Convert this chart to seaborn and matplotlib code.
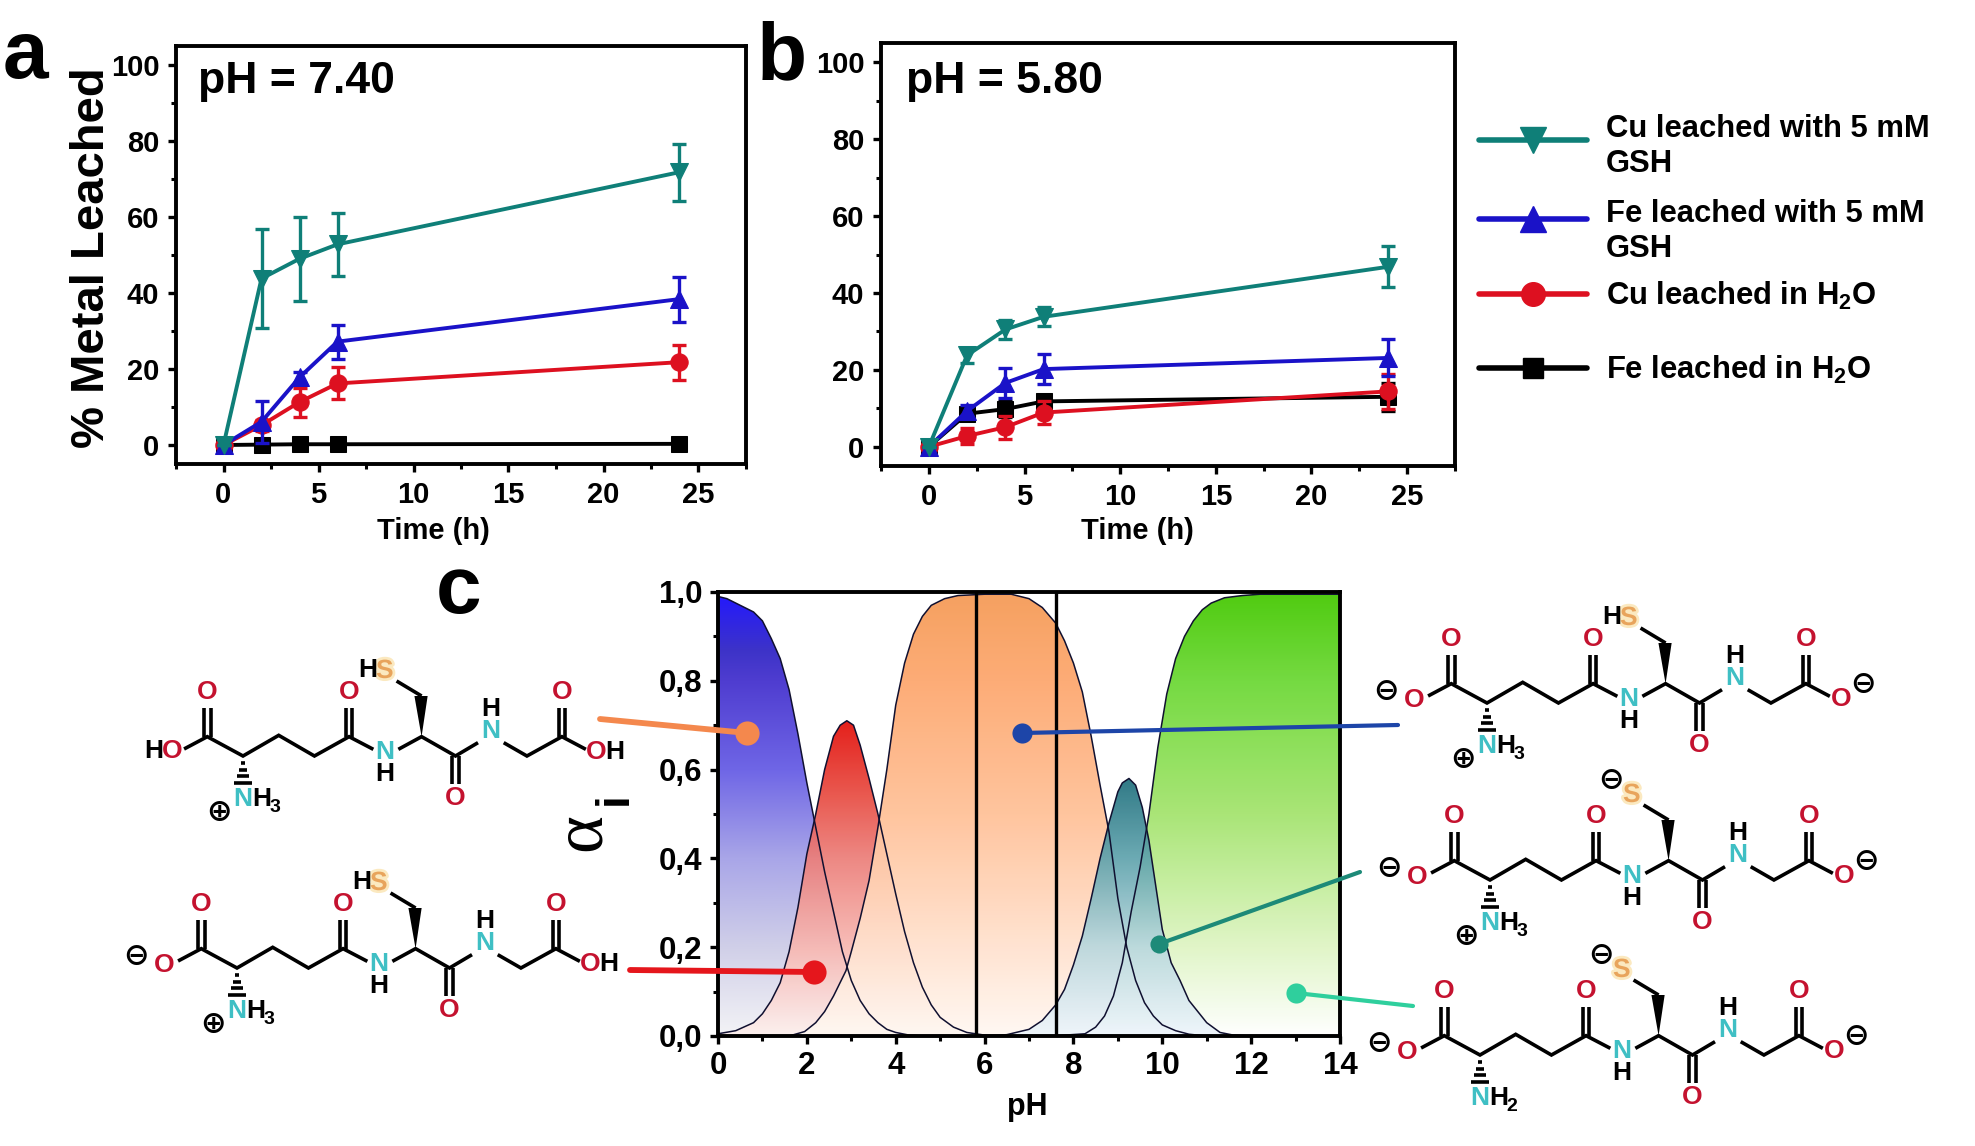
import numpy as np
import pandas as pd
import seaborn as sns
import matplotlib.pyplot as plt
from matplotlib.colors import LinearSegmentedColormap
from matplotlib.legend_handler import HandlerLine2D
from matplotlib.patches import Polygon
from matplotlib.ticker import MultipleLocator
import matplotlib.patheffects as pe

W, H = 1975, 1146

# panels a and b
time_h = [0, 2, 4, 6, 24]

a_cu_gsh = [0, 43.8, 49.0, 52.8, 71.8]
a_cu_gsh_err = [0, 13.0, 11.0, 8.2, 7.5]
a_fe_gsh = [0, 6.1, 17.8, 27.2, 38.4]
a_fe_gsh_err = [0, 5.5, 1.5, 4.5, 5.9]
a_cu_h2o = [0, 5.2, 11.3, 16.2, 21.8]
a_cu_h2o_err = [0, 1.5, 3.8, 4.2, 4.6]
a_fe_h2o = [0, 0.1, 0.2, 0.2, 0.3]
a_fe_h2o_err = [0, 0, 0, 0, 0]

b_cu_gsh = [0, 23.8, 30.5, 33.8, 46.8]
b_cu_gsh_err = [0, 2.0, 2.5, 2.5, 5.3]
b_fe_gsh = [0, 9.3, 16.6, 20.2, 23.1]
b_fe_gsh_err = [0, 1.5, 4.0, 3.8, 4.8]
b_cu_h2o = [0, 2.8, 5.1, 8.9, 14.4]
b_cu_h2o_err = [0, 2.0, 3.0, 3.0, 4.6]
b_fe_h2o = [0, 8.6, 9.8, 11.8, 13.0]
b_fe_h2o_err = [0, 1.0, 2.0, 1.5, 3.7]

legend_labels = ['Cu leached with 5 mM\nGSH',
                 'Fe leached with 5 mM\nGSH',
                 r'Cu leached in $\mathbf{H_2O}$',
                 r'Fe leached in $\mathbf{H_2O}$']

# panel c, species fractions
blue_ph = [0, .2, .4, .6, .8, 1, 1.2, 1.4, 1.6, 1.8, 2, 2.2, 2.4, 2.6, 2.8, 3, 3.2, 3.4, 3.6, 3.8, 4, 4.3, 4.6, 14]
blue_a = [.99, .985, .975, .965, .955, .935, .895, .85, .78, .68, .57, .47, .37, .28, .19, .125, .08, .05, .03, .015, .008, .002, 0, 0]

red_ph = [0, .4, .8, 1, 1.2, 1.4, 1.6, 1.8, 2, 2.2, 2.4, 2.6, 2.75, 2.9, 3.05, 3.2, 3.4, 3.6, 3.8, 4, 4.2, 4.4, 4.6, 4.8, 5, 5.3, 5.6, 6, 6.5, 14]
red_a = [.005, .012, .03, .05, .08, .12, .19, .29, .41, .50, .60, .675, .70, .71, .70, .655, .58, .50, .41, .32, .235, .165, .11, .07, .042, .02, .008, .002, 0, 0]

orange_ph = [0, 1.6, 1.95, 2.2, 2.4, 2.6, 2.88, 3, 3.2, 3.4, 3.6, 3.8, 4, 4.2, 4.4, 4.6, 4.8, 5.1, 5.4, 6, 6.6, 7, 7.3, 7.6, 7.8, 8, 8.2, 8.4, 8.6, 8.8, 9, 9.2, 9.4, 9.6, 9.8, 10, 10.3, 10.6, 11, 14]
orange_a = [0, 0, .01, .03, .055, .09, .147, .19, .265, .35, .47, .60, .745, .84, .905, .945, .97, .985, .992, .995, .995, .985, .965, .93, .89, .84, .775, .675, .565, .46, .31, .20, .125, .075, .045, .025, .012, .004, 0, 0]

teal_ph = [0, 6, 6.5, 7, 7.3, 7.6, 7.8, 8, 8.2, 8.4, 8.6, 8.8, 9, 9.1, 9.25, 9.4, 9.55, 9.7, 9.85, 10, 10.2, 10.4, 10.6, 10.8, 11, 11.3, 11.6, 12, 14]
teal_a = [0, 0, .003, .015, .035, .07, .105, .16, .225, .31, .40, .48, .55, .57, .58, .565, .515, .44, .34, .24, .165, .125, .08, .055, .03, .008, .002, 0, 0]

green_ph = [0, 7.5, 8.26, 8.5, 8.7, 8.9, 9.1, 9.3, 9.5, 9.7, 9.9, 10.1, 10.3, 10.5, 10.7, 10.9, 11.1, 11.4, 11.8, 12.2, 14]
green_a = [0, 0, .005, .02, .045, .09, .165, .28, .38, .50, .65, .77, .85, .90, .935, .96, .975, .987, .992, .995, .995]

ph_marks = [5.8, 7.6]

# gradient stops (alpha level, colour) for each species
blue_stops = [(0, '#f3f3f6'), (.2, '#d0cfe8'), (.4, '#a9a6e8'), (.6, '#6f66e6'), (.8, '#4f3dd0'), (.87, '#3d33c8'), (1, '#2318ff')]
red_stops = [(0, '#fdf0ee'), (.2, '#f8b8b2'), (.4, '#ec7f7a'), (.55, '#e84a40'), (.71, '#e30f0a'), (1, '#e30f0a')]
orange_stops = [(0, '#fff8f2'), (.2, '#ffe2cf'), (.5, '#ffc198'), (.8, '#fda76e'), (1, '#f59a55')]
teal_stops = [(0, '#eef5fb'), (.2, '#b9d8de'), (.4, '#5fa3ad'), (.58, '#1e6e7c'), (1, '#1e6e7c')]
green_stops = [(0, '#ffffff'), (.2, '#dff5c4'), (.5, '#a4e46e'), (.8, '#6cd835'), (1, '#44c800')]

TEAL = '#0f7f78'
BLUE = '#1a12c8'
RED = '#dd1020'
O_COL = '#c4122f'
N_COL = '#3fbfc4'
S_COL = '#e8a45c'
MARKER_SIZE = {'s': 11, 'o': 12.5, '^': 13, 'v': 13}

sns.set_theme(style='ticks')
plt.rcParams['font.family'] = ['Liberation Sans', 'DejaVu Sans']
plt.rcParams['font.weight'] = 'bold'
plt.rcParams['text.color'] = 'black'
plt.rcParams['axes.labelcolor'] = 'black'
plt.rcParams['mathtext.fontset'] = 'custom'
plt.rcParams['mathtext.bf'] = 'Liberation Sans:bold'
plt.rcParams['mathtext.rm'] = 'Liberation Sans'

fig = plt.figure(figsize=(W / 100, H / 100), dpi=100)


def px_axes(left, top, right, bottom):
    return fig.add_axes([left / W, 1 - bottom / H, (right - left) / W, (bottom - top) / H])


def style_axis(ax, spine_w=2.8):
    for s in ax.spines.values():
        s.set_linewidth(spine_w)
        s.set_color('black')
    ax.tick_params(which='major', length=6, width=2.4, labelsize=21, pad=6, colors='black')
    ax.tick_params(which='minor', length=3.5, width=2.2, colors='black')
    ax.tick_params(top=False, right=False, which='both')


def leach_panel(ax, series):
    for y, err, col, mk in series:
        df = pd.DataFrame({'time': time_h, 'value': y})
        ax.errorbar(time_h, y, yerr=err, fmt='none', ecolor=col, elinewidth=2.4, capsize=5, capthick=2.4)
        sns.lineplot(data=df, x='time', y='value', color=col, marker=mk, markersize=MARKER_SIZE[mk],
                     markeredgecolor=col, linewidth=2.8, errorbar=None, ax=ax)
    ax.set_xlim(-2.5, 27.5)
    ax.set_ylim(-5, 105)
    ax.xaxis.set_major_locator(MultipleLocator(5))
    ax.xaxis.set_minor_locator(MultipleLocator(2.5))
    ax.yaxis.set_major_locator(MultipleLocator(20))
    ax.yaxis.set_minor_locator(MultipleLocator(10))
    ax.set_ylabel('')
    style_axis(ax)


ax_a = px_axes(176, 46, 746, 464)
leach_panel(ax_a, [(a_fe_h2o, a_fe_h2o_err, 'black', 's'),
                   (a_cu_h2o, a_cu_h2o_err, RED, 'o'),
                   (a_fe_gsh, a_fe_gsh_err, BLUE, '^'),
                   (a_cu_gsh, a_cu_gsh_err, TEAL, 'v')])
ax_a.set_xlabel('Time (h)', fontsize=21, fontweight='bold', va='center')
ax_a.xaxis.set_label_coords(0.452, -0.16)
ax_a.set_ylabel('% Metal Leached', fontsize=34, fontweight='bold', va='center')
ax_a.yaxis.set_label_coords(-0.148, 0.494)

ax_b = px_axes(881, 43, 1455, 466)
leach_panel(ax_b, [(b_fe_h2o, b_fe_h2o_err, 'black', 's'),
                   (b_cu_h2o, b_cu_h2o_err, RED, 'o'),
                   (b_fe_gsh, b_fe_gsh_err, BLUE, '^'),
                   (b_cu_gsh, b_cu_gsh_err, TEAL, 'v')])
ax_b.set_xlabel('Time (h)', fontsize=21, fontweight='bold', va='center')
ax_b.xaxis.set_label_coords(0.447, -0.153)


class LiftedLine(HandlerLine2D):
    # the reference keeps the handle nearer the first text line
    def __init__(self, lift):
        super().__init__()
        self.lift = lift

    def create_artists(self, legend, orig_handle, xdescent, ydescent, width, height, fontsize, trans):
        return super().create_artists(legend, orig_handle, xdescent, ydescent - 2 * self.lift,
                                      width, height, fontsize, trans)


# legend entries are spaced unevenly in the reference, so one legend per entry
leg_style = [(TEAL, 'v', 18.5, 5.0), (BLUE, '^', 18.5, 9.0), (RED, 'o', 17, 0), ('black', 's', 15, 0)]
leg_tops = [114, 199, 280, 354]
for (col, mk, ms, lift), lab, top in zip(leg_style, legend_labels, leg_tops):
    h = plt.Line2D([], [], color=col, marker=mk, markersize=ms, linewidth=4)
    fig.legend([h], [lab], loc='upper left', bbox_to_anchor=(1479 / W, 1 - top / H),
               frameon=False, fontsize=22.3, handlelength=3.5, handletextpad=0.6,
               borderpad=0, borderaxespad=0, handler_map={h: LiftedLine(lift)})

# panel c
ax_c = px_axes(718, 592, 1340, 1036)
gradient = np.linspace(0, 1, 256).reshape(-1, 1)
species = [(blue_ph, blue_a, blue_stops, 1.0),
           (red_ph, red_a, red_stops, 0.93),
           (orange_ph, orange_a, orange_stops, 0.94),
           (green_ph, green_a, green_stops, 0.94),
           (teal_ph, teal_a, teal_stops, 0.92)]
for ph, alpha_i, stops, op in species:
    cmap = LinearSegmentedColormap.from_list('grad', stops)
    patch = ax_c.fill_between(ph, alpha_i, 0, color='none', linewidth=0)
    im = ax_c.imshow(gradient, extent=[0, 14, 0, 1], origin='lower', aspect='auto',
                     cmap=cmap, alpha=op, vmin=0, vmax=1)
    im.set_clip_path(patch.get_paths()[0], transform=ax_c.transData)
for ph, alpha_i, stops, op in species:
    sns.lineplot(x=ph, y=alpha_i, color='#101030', linewidth=1.1, errorbar=None, ax=ax_c)
for m in ph_marks:
    ax_c.axvline(m, color='black', linewidth=2.4)
ax_c.set_xlim(0, 14)
ax_c.set_ylim(0, 1)
ax_c.xaxis.set_major_locator(MultipleLocator(2))
ax_c.xaxis.set_minor_locator(MultipleLocator(1))
ax_c.yaxis.set_major_locator(MultipleLocator(0.2))
ax_c.yaxis.set_minor_locator(MultipleLocator(0.1))
ax_c.yaxis.set_major_formatter(lambda v, pos: f'{v:.1f}'.replace('.', ','))
style_axis(ax_c)
ax_c.tick_params(axis='both', which='major', labelsize=22.5, pad=5)
ax_c.set_xlabel('pH', fontsize=22, fontweight='bold', va='center')
ax_c.xaxis.set_label_coords(0.497, -0.16)

# overlay in pixel units for letters, callouts and the molecules
ov = fig.add_axes([0, 0, 1, 1], zorder=10)
ov.set_xlim(0, W)
ov.set_ylim(H, 0)
ov.axis('off')
ov.patch.set_alpha(0)

for s, x, y in [('a', 3, 78), ('b', 757, 79), ('c', 436, 613)]:
    ov.text(x, y, s, fontsize=59, fontweight='bold', ha='left', va='baseline', color='black')
ov.text(198, 93, 'pH = 7.40', fontsize=32, fontweight='bold', va='baseline', color='black')
ov.text(906, 93, 'pH = 5.80', fontsize=32, fontweight='bold', va='baseline', color='black')

ov.text(582, 832, 'α', fontsize=52, family=['Liberation Serif'], fontweight='normal', rotation=90,
        ha='center', va='center', color='black')
ov.text(615, 799, 'i', fontsize=33, fontweight='bold', rotation=90, ha='center', va='center', color='black')

callouts = [((600, 719), (747, 733), '#f4884d', 4.2, 12),
            ((630, 970), (814, 972), '#e5161c', 4.2, 12),
            ((1398, 725), (1022, 733), '#1d45a8', 3.0, 10),
            ((1360, 872), (1159, 944), '#1d8a78', 3.0, 9),
            ((1413, 1006), (1296, 993), '#2fcf9d', 3.0, 10)]
for (x0, y0), (x1, y1), col, lw, ms in callouts:
    ov.plot([x0, x1], [y0, y1], color=col, linewidth=lw, solid_capstyle='round')
    ov.plot([x1], [y1], 'o', color=col, markersize=ms * 1.45, markeredgewidth=0)


def z(zx, zy):
    return (zx - 400) / 2.8, (zy - 405) / 3.0


def draw_gsh(cx, cy, left='HO', right='OH', thiol='HS', amine='NH3'):
    def P(zx, zy):
        dx, dy = z(zx, zy)
        return cx + dx, cy + dy

    def bond(*pts):
        xy = [P(*p) for p in pts]
        ov.plot([p[0] for p in xy], [p[1] for p in xy], color='black', linewidth=2.6,
                solid_joinstyle='miter', solid_capstyle='butt')

    def lab(zx, zy, s, col='black', size=19):
        x, y = P(zx, zy)
        return ov.text(x, y, s, color=col, fontsize=size, fontweight='bold', ha='center', va='center')

    def charge(zx, zy, s):
        x, y = P(zx, zy)
        ov.text(x, y, s, color='black', fontsize=22, family=['DejaVu Sans'], fontweight='bold',
                ha='center', va='center')

    bond((235, 384), (300, 347), (400, 405), (500, 343), (600, 405), (697, 347), (765, 385))
    bond((835, 385), (900, 347), (995, 405), (1058, 365))
    bond((1130, 365), (1195, 405), (1293, 347), (1360, 385))
    bond((900, 225), (830, 180))
    for x0, y0, y1 in [(300, 347, 262), (697, 347, 262), (1293, 347, 262), (995, 405, 490)]:
        bond((x0 - 9, y0), (x0 - 9, y1))
        bond((x0 + 9, y0), (x0 + 9, y1))
    ov.add_patch(Polygon([P(900, 347), P(880, 225), P(917, 225)], closed=True, color='black', lw=0))
    for yy, half in [(425, 5), (446, 11), (466, 18), (486, 26)]:
        bond((400 - half, yy), (400 + half, yy))

    for xx in (300, 697, 1293):
        lab(xx, 212, 'O', O_COL)
    lab(995, 530, 'O', O_COL)
    lab(797, 392, 'N', N_COL)
    lab(797, 458, 'H')
    lab(1095, 330, 'N', N_COL)
    lab(1095, 265, 'H')

    if left == 'HO':
        lab(150, 390, 'H')
        lab(203, 390, 'O', O_COL)
    else:
        lab(195, 395, 'O', O_COL)
        charge(118, 370, '⊖')
    if right == 'OH':
        lab(1388, 392, 'O', O_COL)
        lab(1440, 392, 'H')
    else:
        lab(1391, 392, 'O', O_COL)
        charge(1452, 350, '⊖')

    sx, sy = P(797, 150)
    halo = [pe.withStroke(linewidth=4, foreground='#fbe9c0')]
    ov.text(sx, sy, 'S', color=S_COL, fontsize=19, fontweight='bold', ha='center', va='center',
            path_effects=halo)
    if thiol == 'HS':
        lab(750, 148, 'H')
    else:
        charge(740, 105, '⊖')

    lab(400, 533, 'N', N_COL)
    lab(452, 533, 'H')
    if amine == 'NH3':
        lab(490, 560, '3', size=14)
        charge(333, 575, '⊕')
    else:
        lab(490, 560, '2', size=14)


draw_gsh(243, 756)
draw_gsh(237, 968, left='O-')
draw_gsh(1487, 703, left='O-', right='O-')
draw_gsh(1490, 880, left='O-', right='O-', thiol='S-')
draw_gsh(1480, 1055, left='O-', right='O-', thiol='S-', amine='NH2')

fig.savefig('out.png', dpi=100, facecolor='white')
